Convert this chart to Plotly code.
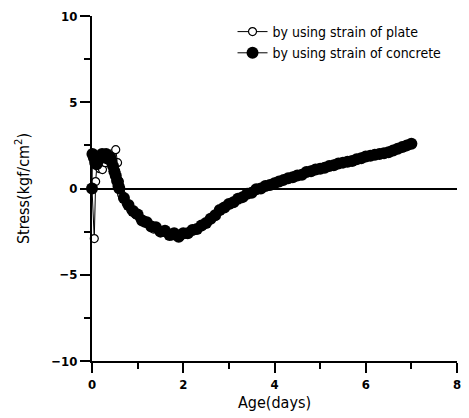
import plotly.graph_objects as go

# ---- data ----
plate_age = [0.00, 0.05, 0.08, 0.11, 0.17, 0.23, 0.29, 0.35, 0.42, 0.52, 0.56, 0.60,
             0.65, 0.75, 0.85, 0.95, 1.05, 1.15, 1.25, 1.35, 1.45, 1.55, 1.65, 1.75,
             1.85, 1.95, 2.05, 2.15, 2.25, 2.35, 2.45, 2.55, 2.65, 2.75, 2.85, 2.95,
             3.05, 3.15, 3.25, 3.35, 3.45, 3.55, 3.65, 3.75, 3.85, 3.95, 4.05, 4.15,
             4.25, 4.35, 4.45, 4.55, 4.65, 4.75, 4.85, 4.95, 5.05, 5.15, 5.25, 5.35,
             5.45, 5.55, 5.65, 5.75, 5.85, 5.95, 6.05, 6.15, 6.25, 6.35, 6.45, 6.55,
             6.65, 6.75, 6.85, 6.95]
plate_stress = [0.0, -2.9, 0.4, 1.45, 1.15, 1.1, 1.5, 1.8, 2.0, 2.25, 1.5, 0.4,
                -0.35, -0.85, -1.25, -1.5, -1.75, -2.0, -2.1, -2.35, -2.4, -2.55, -2.6, -2.75,
                -2.7, -2.75, -2.65, -2.5, -2.4, -2.25, -2.1, -1.9, -1.65, -1.4, -1.2, -1.0,
                -0.85, -0.7, -0.55, -0.4, -0.3, -0.15, -0.05, 0.05, 0.15, 0.25, 0.35, 0.45,
                0.55, 0.6, 0.7, 0.8, 0.85, 1.0, 1.05, 1.1, 1.2, 1.25, 1.3, 1.4,
                1.45, 1.55, 1.6, 1.65, 1.75, 1.8, 1.85, 1.95, 2.0, 2.05, 2.1, 2.15,
                2.25, 2.35, 2.45, 2.55]

concrete_age = [0.00, 0.01, 0.04, 0.07, 0.10, 0.13, 0.16, 0.19, 0.22, 0.25, 0.28, 0.31,
                0.34, 0.37, 0.40, 0.43, 0.46, 0.49, 0.52, 0.55, 0.58,
                0.6, 0.7, 0.8, 0.9, 1.0, 1.1, 1.2, 1.3, 1.4, 1.5, 1.6, 1.7, 1.8, 1.9,
                2.0, 2.1, 2.2, 2.3, 2.4, 2.5, 2.6, 2.7, 2.8, 2.9, 3.0, 3.1, 3.2, 3.3,
                3.4, 3.5, 3.6, 3.7, 3.8, 3.9, 4.0, 4.1, 4.2, 4.3, 4.4, 4.5, 4.6, 4.7,
                4.8, 4.9, 5.0, 5.1, 5.2, 5.3, 5.4, 5.5, 5.6, 5.7, 5.8, 5.9, 6.0, 6.1,
                6.2, 6.3, 6.4, 6.5, 6.6, 6.7, 6.8, 6.9, 7.0]
concrete_stress = [0.0, 2.0, 1.8, 1.5, 1.4, 1.6, 1.8, 1.9, 2.0, 1.9, 1.8, 2.0,
                   1.9, 1.7, 1.8, 1.6, 1.3, 1.0, 0.75, 0.45, 0.15,
                   0.0, -0.55, -0.95, -1.3, -1.5, -1.85, -1.95, -2.2, -2.25, -2.5, -2.45, -2.7, -2.6, -2.8,
                   -2.6, -2.6, -2.4, -2.35, -2.15, -2.0, -1.75, -1.55, -1.25, -1.1, -0.9, -0.8, -0.6, -0.5,
                   -0.3, -0.25, -0.05, 0.0, 0.15, 0.2, 0.3, 0.4, 0.5, 0.6, 0.65, 0.75, 0.8, 0.95,
                   1.0, 1.1, 1.15, 1.2, 1.3, 1.35, 1.45, 1.5, 1.55, 1.6, 1.7, 1.75, 1.85, 1.9,
                   1.95, 2.0, 2.05, 2.1, 2.2, 2.3, 2.4, 2.5, 2.6]

x_ticks = [0, 2, 4, 6, 8]
y_ticks = [-10, -5, 0, 5, 10]

FONT = "DejaVu Sans Condensed, Liberation Sans Narrow, Arial Narrow, Liberation Sans, sans-serif"

fig = go.Figure()
fig.add_trace(go.Scatter(
    x=plate_age, y=plate_stress, mode="lines+markers",
    name="by using strain of plate",
    line=dict(color="black", width=1),
    marker=dict(symbol="circle", size=8, color="white", line=dict(color="black", width=1.2)),
    cliponaxis=False,
))
fig.add_trace(go.Scatter(
    x=concrete_age, y=concrete_stress, mode="lines+markers",
    name="by using strain of concrete",
    line=dict(color="black", width=1),
    marker=dict(symbol="circle", size=12, color="black"),
    cliponaxis=False,
))

fig.update_layout(
    width=469, height=418,
    margin=dict(l=92, r=8, t=16, b=57),
    paper_bgcolor="white", plot_bgcolor="white",
    font=dict(family=FONT, color="black"),
    showlegend=True,
    legend=dict(x=0.385, y=1.0, xanchor="left", yanchor="top",
                bgcolor="rgba(0,0,0,0)", font=dict(size=14, family=FONT),
                tracegroupgap=0, itemwidth=30),
    xaxis=dict(
        range=[0, 8], tickvals=x_ticks, showgrid=False, zeroline=False,
        showline=True, linecolor="black", linewidth=2,
        ticks="outside", ticklen=10, tickwidth=2, tickcolor="black",
        minor=dict(dtick=1, ticks="outside", ticklen=6, tickwidth=1.5, tickcolor="black", showgrid=False),
        tickfont=dict(size=13, family=FONT, weight="bold"),
        title=dict(text="Age(days)", font=dict(size=16, family=FONT), standoff=6),
    ),
    yaxis=dict(
        range=[-10, 10], tickvals=y_ticks, showgrid=False,
        zeroline=True, zerolinecolor="black", zerolinewidth=1.5,
        showline=True, linecolor="black", linewidth=2,
        ticks="outside", ticklen=10, tickwidth=2, tickcolor="black",
        minor=dict(dtick=2.5, ticks="outside", ticklen=6, tickwidth=1.5, tickcolor="black", showgrid=False),
        tickfont=dict(size=13, family=FONT, weight="bold"),
        title=dict(text="Stress(kgf/cm<sup>2</sup>)", font=dict(size=16, family=FONT), standoff=18),
    ),
)

fig.write_html("out.html")
